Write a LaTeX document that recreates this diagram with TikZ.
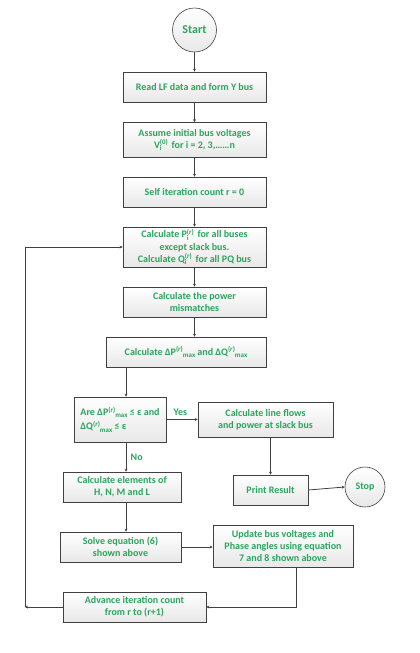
\documentclass[tikz,border=0pt]{standalone}
\usepackage{fontspec}
\setmainfont{Carlito}
\usetikzlibrary{arrows.meta,shadows}
\definecolor{txtgreen}{RGB}{44,164,94}
\definecolor{linegray}{RGB}{64,64,64}
\definecolor{boxbot}{RGB}{232,232,232}
\newcommand{\supsubx}[2]{\rlap{\raisebox{-2.5pt}{\fontsize{7}{7}\selectfont #2}}\raisebox{3.6pt}{\fontsize{7}{7}\selectfont #1}}
\newcommand{\supx}[1]{\raisebox{3.6pt}{\fontsize{7}{7}\selectfont #1}}
\newcommand{\subx}[1]{\raisebox{-2.2pt}{\fontsize{7}{7}\selectfont #1}}
\begin{document}
\begin{tikzpicture}[x=1pt,y=-1pt,
  every node/.style={font=\fontsize{10}{12.3}\selectfont\bfseries, text=txtgreen},
  procbox/.style={draw=linegray, line width=0.6pt, top color=white, bottom color=boxbot,
    rectangle, align=center, inner sep=1pt,
    drop shadow={shadow xshift=0.8pt, shadow yshift=-0.8pt, opacity=0.25}},
  termcirc/.style={draw=linegray, line width=0.6pt, circle, top color=white, bottom color=boxbot,
    inner sep=0pt, minimum size=#1},
  arr/.style={draw=linegray, line width=0.8pt, -{Stealth[length=3pt,width=3pt]}},
  lbl/.style={font=\fontsize{10}{12}\selectfont\bfseries, text=txtgreen}
]
\useasboundingbox[fill=white] (0,0) rectangle (420,653);

\node[termcirc=44pt, font=\fontsize{12}{14}\selectfont\bfseries] (start) at (194.5,30) {Start};
\node[procbox, minimum width=143pt, minimum height=30pt] (b1) at (194.5,87) {Read LF data and form Y bus};
\node[procbox, minimum width=143pt, minimum height=35pt] (b2) at (194.5,140)
  {Assume initial bus voltages\\V\supsubx{(0)}{i}\hspace{1.5pt} for i = 2, 3,\dots\dots n};
\node[procbox, minimum width=143pt, minimum height=30pt] (b3) at (194.5,192) {Self iteration count r = 0};
\node[procbox, minimum width=143pt, minimum height=40pt] (b4) at (194.5,247)
  {Calculate P\supsubx{(\textit{r})}{i}\hspace{1.5pt} for all buses\\except slack bus.\\Calculate Q\supsubx{(\textit{r})}{i}\hspace{1.5pt} for all PQ bus};
\node[procbox, minimum width=143pt, minimum height=30pt] (b5) at (194.5,302) {Calculate the power\\mismatches};
\node[procbox, minimum width=160pt, minimum height=30pt] (b6) at (186,352)
  {Calculate ΔP\supx{(\textit{r})}\subx{max} and ΔQ\supx{(\textit{r})}\subx{max}};
\node[procbox, minimum width=92pt, minimum height=45pt, align=left] (dec) at (120,419.5)
  {Are ΔP\supx{(\textit{r})}\subx{max} ≤ ε and\\[2pt]ΔQ\supx{(\textit{r})}\subx{max} ≤ ε};
\node[procbox, minimum width=135pt, minimum height=35pt] (flows) at (265.5,419.5) {Calculate line flows\\and power at slack bus};
\node[procbox, minimum width=118pt, minimum height=30pt] (elem) at (122,487) {Calculate elements of\\H, N, M and L};
\node[procbox, minimum width=75pt, minimum height=30pt] (print) at (270.5,490) {Print Result};
\node[termcirc=40pt] (stop) at (365,487) {Stop};
\node[procbox, minimum width=121pt, minimum height=30pt] (solve) at (120.5,547) {Solve equation (6)\\shown above};
\node[procbox, minimum width=140pt, minimum height=42pt] (update) at (283,546) {Update bus voltages and\\Phase angles using equation\\7 and 8 shown above};
\node[procbox, minimum width=143pt, minimum height=30pt] (adv) at (134.5,607) {Advance iteration count\\from r to (r+1)};

\coordinate (colx) at (126,0);
\coordinate (ucorner) at (296,607);
\coordinate (lcorner) at (25,607);

\draw[arr] (start) -- (b1);
\draw[arr] (b1) -- (b2);
\draw[arr] (b2) -- (b3);
\draw[arr] (b3) -- (b4);
\draw[arr] (b4) -- (b5);
\draw[arr] (b5.south) -- (b5.south |- b6.north);
\draw[arr] (b6.south -| colx) -- (dec.north -| colx);
\draw[arr] (dec.east) -- (flows.west) node[lbl, pos=0.45, above] {Yes};
\draw[arr] (dec.south -| colx) -- (elem.north -| colx) node[lbl, pos=0.5, right=1pt] {No};
\draw[arr] (flows.south -| print.north) -- (print.north);
\draw[arr] (print.east) -- (stop.west);
\draw[arr] (elem.south -| colx) -- (solve.north -| colx);
\draw[arr] (solve.east) -- (solve.east -| update.west);
\draw[arr] (update.south -| ucorner) -- (ucorner) -- (adv.east);
\draw[arr] (adv.west) -- (lcorner);
\draw[arr] (lcorner) |- (b4.west);
\end{tikzpicture}
\end{document}
